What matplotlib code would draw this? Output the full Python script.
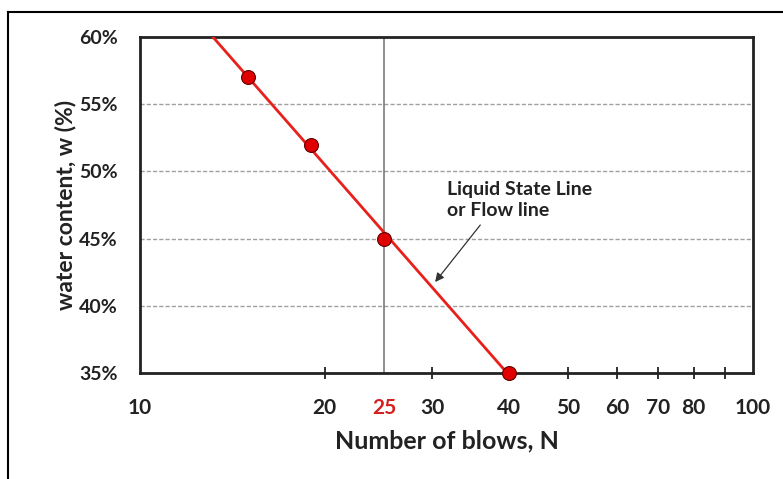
import numpy as np
import matplotlib
matplotlib.use("Agg")
import matplotlib.pyplot as plt
from matplotlib.lines import Line2D

# Data
blows = [15, 19, 25, 40]
water = [0.57, 0.52, 0.45, 0.35]
xtick_vals = [10, 20, 25, 30, 40, 50, 60, 70, 80, 90, 100]
xtick_labels = ["10", "20", "25", "30", "40", "50", "60", "70", "80", "", "100"]
no_mark_vals = [10, 25, 100]
ytick_vals = [0.35, 0.40, 0.45, 0.50, 0.55, 0.60]
ytick_labels = ["35%", "40%", "45%", "50%", "55%", "60%"]
ref_blows = 25

plt.rcParams['font.family'] = ['Lato', 'DejaVu Sans']

fig = plt.figure(figsize=(7.83, 4.79), dpi=100)
ax = fig.add_axes([140/783, 1-373/479, 613/783, 336/479])

ax.set_xscale('log')
ax.set_xlim(10, 100)
ax.set_ylim(0.35, 0.60)

# gridlines
for yv in ytick_vals[1:-1]:
    ax.axhline(yv, color='#a0a0a0', lw=1.0, ls=(0, (3, 1.5)), zorder=1)

# vertical line at 25
ax.axvline(ref_blows, color='#707070', lw=1.1, zorder=2)

# fitted flow line
coef = np.polyfit(np.log10(blows), water, 1)
xs = np.logspace(1, 2, 200)
ys = np.polyval(coef, np.log10(xs))
ax.plot(xs, ys, color='#e8201c', lw=2.0, zorder=3, clip_on=True)

ax.plot(blows, water, 'o', color='#e00000', mec='#600000', mew=0.8, ms=10, zorder=5, clip_on=False)

# ticks
ax.set_yticks(ytick_vals)
ax.set_yticklabels(ytick_labels)
ax.xaxis.set_minor_locator(matplotlib.ticker.NullLocator())
ax.set_xticks(xtick_vals)
ax.set_xticklabels(xtick_labels)
ax.tick_params(axis='x', which='major', length=8, width=1.3, direction='inout', color='#222222',
               pad=14, labelsize=15, labelcolor='#222222')
ax.tick_params(axis='y', length=0, pad=16, labelsize=14, labelcolor='#222222')
for t, v in zip(ax.xaxis.get_major_ticks(), xtick_vals):
    if v in no_mark_vals:
        t.tick1line.set_visible(False)
        t.tick2line.set_visible(False)
for lab in ax.get_xticklabels() + ax.get_yticklabels():
    lab.set_fontweight('bold')
for lab, v in zip(ax.get_xticklabels(), xtick_vals):
    if v == ref_blows:
        lab.set_color('#d42020')

for s in ax.spines.values():
    s.set_linewidth(2.0)
    s.set_color('#222222')

ax.set_xlabel("Number of blows, N", fontsize=18, fontweight='bold', color='#222222', labelpad=8)
ax.set_ylabel("water content, w (%)", fontsize=16.5, fontweight='bold', color='#222222', labelpad=2)

ax.text(31.7, 0.4787, "Liquid State Line\nor Flow line", fontsize=14, fontweight='bold',
        color='#222222', ha='left', va='center', linespacing=1.35)
ax.annotate("", xy=(30.3, 0.4177), xytext=(35.9, 0.4601),
            arrowprops=dict(arrowstyle='-|>', color='#333333', lw=0.9, mutation_scale=13,
                            shrinkA=0, shrinkB=0))

# outer frame (top and left only)
fig.add_artist(Line2D([8/783, 1], [1-12/479, 1-12/479], color='black', lw=1.5, transform=fig.transFigure))
fig.add_artist(Line2D([8/783, 8/783], [0, 1-12/479], color='black', lw=1.5, transform=fig.transFigure))

fig.savefig("out.png", dpi=100)
